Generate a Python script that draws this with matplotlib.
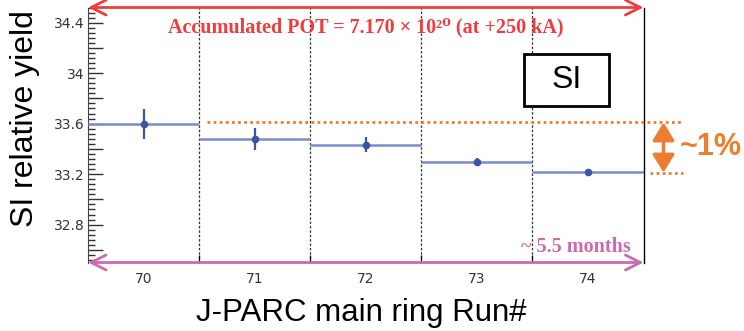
import matplotlib
matplotlib.use("Agg")
import matplotlib.pyplot as plt
from matplotlib.ticker import MultipleLocator, FuncFormatter, FixedLocator
from matplotlib.patches import Rectangle

# Per-run SI relative yield
runs = [70, 71, 72, 73, 74]
yield_vals = [33.60, 33.476, 33.432, 33.295, 33.218]
yield_errs = [0.118, 0.087, 0.060, 0.030, 0.022]
run_labels = ["70", "71", "72", "73", "74"]

# Reference levels for the ~1% band
level_high = 33.610
level_low = 33.212

title_text = "Accumulated POT = 7.170 \u00d7 10\u00b2\u2070 (at +250 kA)"
period_text = "~ 5.5 months"

RED = "#f03c3c"
PINK = "#cc6ab0"
ORANGE = "#ed7d31"
BLUE_DARK = "#3a55a4"
BLUE_LIGHT = "#7a8cc6"

fig = plt.figure(figsize=(7.44, 3.31), dpi=100)
ax = fig.add_axes([88 / 744, 1 - 262.5 / 331, 555.5 / 744, 255 / 331])

xmin, xmax = runs[0] - 0.5, runs[-1] + 0.5
ymin, ymax = 32.50, 34.52
ax.set_xlim(xmin, xmax)
ax.set_ylim(ymin, ymax)

# bin widths as horizontal lines, errors as vertical bars
ax.hlines(yield_vals, [r - 0.5 for r in runs], [r + 0.5 for r in runs],
          colors=BLUE_LIGHT, lw=1.8, zorder=3)
ax.errorbar(runs, yield_vals, yerr=yield_errs, fmt="o", color=BLUE_DARK,
            ms=4.5, elinewidth=1.6, capsize=0, zorder=4)

# run boundaries
for edge in [r + 0.5 for r in runs[:-1]]:
    ax.axvline(edge, color="#333333", lw=0.9, ls=(0, (2, 1.5)), zorder=1)

# axes styling
ax.spines["top"].set_visible(False)
ax.spines["bottom"].set_visible(False)
ax.spines["left"].set_color("#444444")
ax.spines["right"].set_color("black")
ax.spines["right"].set_linewidth(1.0)

ax.xaxis.set_major_locator(FixedLocator(runs))
ax.set_xticklabels(run_labels)
ax.xaxis.set_minor_locator(FixedLocator([r + 0.5 for r in runs[:-1]]))
ax.tick_params(axis="x", which="major", length=0, pad=7, labelsize=10,
               labelcolor="#333333")
ax.tick_params(axis="x", which="minor", direction="in", length=6,
               width=0.9, color="black")

ax.yaxis.set_major_locator(MultipleLocator(0.2))
ax.yaxis.set_minor_locator(MultipleLocator(0.04))


def ylab(v, pos):
    k = round(v / 0.4, 6)
    if abs(k - round(k)) < 1e-6:
        return f"{round(v, 1):g}"
    return ""


ax.yaxis.set_major_formatter(FuncFormatter(ylab))
ax.tick_params(axis="y", which="major", direction="in", length=11, width=1,
               color="#333333", pad=2.5, labelsize=10, labelcolor="#333333")
ax.tick_params(axis="y", which="minor", direction="in", length=5, width=1,
               color="#333333")

# exposure arrows along top and bottom frame
ax.annotate("", xy=(xmax, ymax), xytext=(xmin, ymax),
            arrowprops=dict(arrowstyle="<->,head_length=0.9,head_width=0.45",
                            color=RED, lw=2, shrinkA=0, shrinkB=0,
                            mutation_scale=12),
            annotation_clip=False, zorder=6)
ax.annotate("", xy=(xmax, ymin), xytext=(xmin, ymin),
            arrowprops=dict(arrowstyle="<->,head_length=0.9,head_width=0.45",
                            color=PINK, lw=2, shrinkA=0, shrinkB=0,
                            mutation_scale=12),
            annotation_clip=False, zorder=6)

ax.text(0.5, 0.9235, title_text, transform=ax.transAxes, ha="center",
        va="center", color=RED, fontsize=14.5, fontweight="bold",
        family=["Liberation Serif", "DejaVu Serif"])
ax.text(0.977, 0.062, period_text, transform=ax.transAxes, ha="right",
        va="center", color=PINK, fontsize=14.5, fontweight="bold",
        family=["Liberation Serif", "DejaVu Serif"])

# SI label box
ax.add_patch(Rectangle((0.785, 0.614), 0.153, 0.204, transform=ax.transAxes,
                       facecolor="white", edgecolor="black", lw=2,
                       zorder=7, clip_on=False))
ax.text(0.8615, 0.716, "SI", transform=ax.transAxes, ha="center",
        va="center", fontsize=23, family="Liberation Sans", zorder=8)

# ~1% band indicators
ax.plot([70.57, 74.85], [level_high, level_high], color=ORANGE, lw=2,
        ls=(0, (1, 1.2)), clip_on=False, zorder=5)
ax.plot([74.56, 74.86], [level_low, level_low], color=ORANGE, lw=2,
        ls=(0, (1, 1.2)), clip_on=False, zorder=5)
ax.annotate("", xy=(74.68, level_low), xytext=(74.68, level_high),
            arrowprops=dict(arrowstyle="<|-|>,head_length=0.9,head_width=0.55",
                            color=ORANGE, lw=2.5, shrinkA=0, shrinkB=0,
                            mutation_scale=12),
            annotation_clip=False)
ax.text(74.83, (level_high + level_low) / 2, "~1%", ha="left", va="center",
        color=ORANGE, fontsize=22, fontweight="bold",
        family="Liberation Sans", clip_on=False)

fig.text(361 / 744, 1 - 321 / 331, "J-PARC main ring Run#", ha="center",
         va="baseline", fontsize=22.5, family="Liberation Sans")
fig.text(33 / 744, 1 - 118.5 / 331, "SI relative yield", ha="center",
         va="baseline", rotation=90, rotation_mode="anchor", fontsize=23,
         family="Liberation Sans")

fig.savefig("out.png", dpi=100)
